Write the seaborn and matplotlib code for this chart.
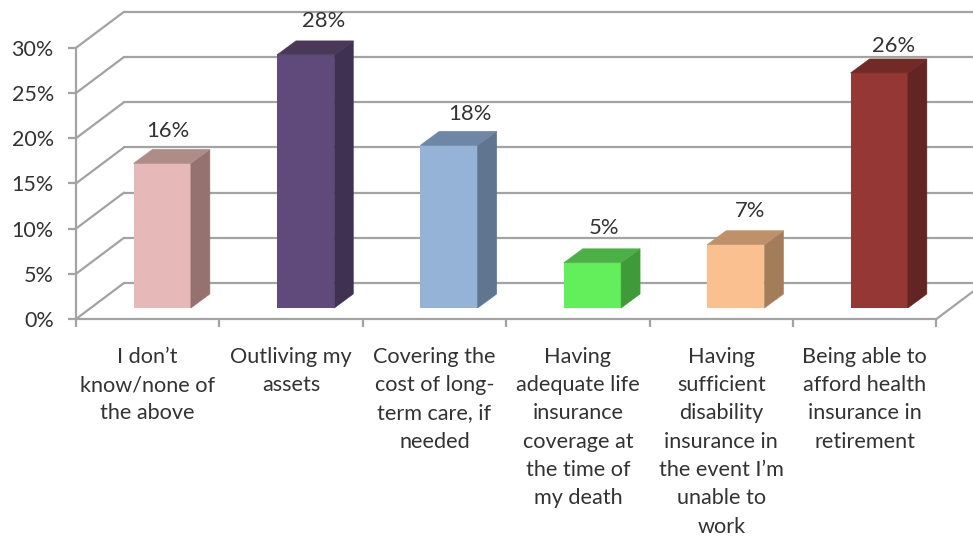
#!/usr/bin/env python

import seaborn as sns
import matplotlib.pyplot as plt
import pandas as pd
from matplotlib.patches import ConnectionPatch, Polygon

categories = [
    "I don\u2019t\nknow/none of\nthe above",
    "Outliving my\nassets",
    "Covering the\ncost of long-\nterm care, if\nneeded",
    "Having\nadequate life\ninsurance\ncoverage at\nthe time of\nmy death",
    "Having\nsufficient\ndisability\ninsurance in\nthe event I\u2019m\nunable to\nwork",
    "Being able to\nafford health\ninsurance in\nretirement",
]
values = [16, 28, 18, 5, 7, 26]
y_ticks = [0, 5, 10, 15, 20, 25, 30]

front_colors = ["#E6B9B8", "#604A7B", "#95B3D7", "#63EE5B", "#FBC08F", "#953735"]
side_colors = ["#95726F", "#3F3151", "#5F7590", "#3F9A39", "#A37D5A", "#632523"]
top_colors = ["#AE8D89", "#4A3859", "#6F87A6", "#4BB045", "#BE9169", "#722A27"]

GREY = "#A3A3A3"
TEXT = "#333333"
W, H = 973, 537


def axes_at(left, base, right, top):
    # pixel box, measured from the top left corner of the picture
    a = fig.add_axes([left / W, (H - base) / H, (right - left) / W, (base - top) / H])
    a.set_xlim(-0.5, 5.5)
    a.set_ylim(0, 30)
    a.patch.set_alpha(0)
    return a


if __name__ == "__main__":
    sns.set_theme(style="white")
    plt.rcParams["font.family"] = ["Lato", "DejaVu Sans"]
    fig = plt.figure(figsize=(W / 100, H / 100), dpi=100)

    # back wall, front (axis) plane, and the plane the bars stand on
    ax_back = axes_at(124, 283, 984.4, 11.8)
    ax_front = axes_at(76, 319, 936.4, 47.8)
    ax = axes_at(90.5, 308, 950.9, 36.8)

    ax_back.set_axis_off()
    for v in y_ticks:
        ax_back.plot([-0.5, 5.5], [v, v], color=GREY, lw=1.6, clip_on=False)

    for s in ["top", "right"]:
        ax_front.spines[s].set_visible(False)
    for s in ["left", "bottom"]:
        ax_front.spines[s].set_color(GREY)
        ax_front.spines[s].set_linewidth(1.6)
    ax_front.set_yticks(y_ticks)
    ax_front.set_yticklabels([str(v) + "%" for v in y_ticks], fontsize=15.5, color=TEXT)
    ax_front.tick_params(axis="y", left=True, length=6, width=1.6, color=GREY, pad=10)
    ax_front.set_xticks(range(6))
    ax_front.set_xticklabels(categories, fontsize=15.6, color=TEXT, linespacing=1.52)
    ax_front.tick_params(axis="x", bottom=False, length=0, pad=20)
    ax_front.set_xticks([x - 0.5 for x in range(7)], minor=True)
    ax_front.tick_params(axis="x", which="minor", bottom=True, length=6, width=1.6, color=GREY)

    # diagonal lines joining the front plane to the back wall
    joints = [(-0.5, v) for v in y_ticks] + [(5.5, 0)]
    for p in joints:
        fig.add_artist(ConnectionPatch(p, p, coordsA=ax_front.transData, coordsB=ax_back.transData,
                                       color=GREY, lw=1.6))

    df = pd.DataFrame({"Category": categories, "Share": values})
    g = sns.barplot(x="Category", y="Share", data=df, order=categories, hue="Category",
                    palette=front_colors, saturation=1, width=0.4, legend=False, ax=ax)
    g.set_xlim(-0.5, 5.5)
    g.set_ylim(0, 30)
    g.set_axis_off()

    # side and top faces taken from the bars seaborn drew
    depth_x = 19 / 143.4
    depth_y = 14 / 9.04
    # label nudges in points, the labels sit unevenly above the bars
    nudge_x = [4, 13, 15, 8, 10, 10]
    nudge_y = [9, 10, 8, 11, 10, 5]
    for i, bar in enumerate(g.patches[:len(values)]):
        x0 = bar.get_x()
        x1 = x0 + bar.get_width()
        h = bar.get_height()
        bar.set_clip_on(False)
        bar.set_linewidth(0)
        side = [(x1, 0), (x1 + depth_x, depth_y), (x1 + depth_x, h + depth_y), (x1, h)]
        top = [(x0, h), (x0 + depth_x, h + depth_y), (x1 + depth_x, h + depth_y), (x1, h)]
        g.add_patch(Polygon(side, closed=True, fc=side_colors[i], ec=side_colors[i], lw=0.4, clip_on=False))
        g.add_patch(Polygon(top, closed=True, fc=top_colors[i], ec=top_colors[i], lw=0.4, clip_on=False))
        g.annotate(str(values[i]) + "%", ((x0 + x1) / 2, h + depth_y), xytext=(nudge_x[i], nudge_y[i]),
                   textcoords="offset points", ha="center", va="baseline",
                   fontsize=15.8, color=TEXT, annotation_clip=False)

    plt.savefig("out.png", dpi=100)
